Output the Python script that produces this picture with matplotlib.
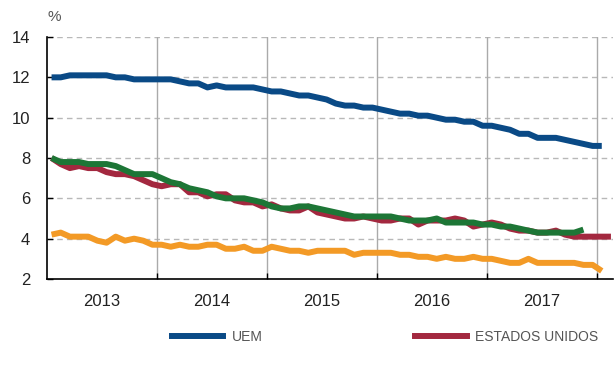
import numpy as np
import matplotlib
matplotlib.use("Agg")
import matplotlib.pyplot as plt
from matplotlib.lines import Line2D

plt.rcParams['font.family'] = ['Liberation Sans', 'DejaVu Sans']

# monthly unemployment rates (%), starting January 2013
uem = [12.0, 12.0, 12.1, 12.1, 12.1, 12.1, 12.1, 12.0, 12.0, 11.9, 11.9, 11.9,
       11.9, 11.9, 11.8, 11.7, 11.7, 11.5, 11.6, 11.5, 11.5, 11.5, 11.5, 11.4,
       11.3, 11.3, 11.2, 11.1, 11.1, 11.0, 10.9, 10.7, 10.6, 10.6, 10.5, 10.5,
       10.4, 10.3, 10.2, 10.2, 10.1, 10.1, 10.0, 9.9, 9.9, 9.8, 9.8, 9.6,
       9.6, 9.5, 9.4, 9.2, 9.2, 9.0, 9.0, 9.0, 8.9, 8.8, 8.7, 8.6,
       8.6]
eeuu = [8.0, 7.7, 7.5, 7.6, 7.5, 7.5, 7.3, 7.2, 7.2, 7.1, 6.9, 6.7,
        6.6, 6.7, 6.7, 6.3, 6.3, 6.1, 6.2, 6.2, 5.9, 5.8, 5.8, 5.6,
        5.7, 5.5, 5.4, 5.4, 5.6, 5.3, 5.2, 5.1, 5.0, 5.0, 5.1, 5.0,
        4.9, 4.9, 5.0, 5.0, 4.7, 4.9, 4.9, 4.9, 5.0, 4.9, 4.6, 4.7,
        4.8, 4.7, 4.5, 4.4, 4.4, 4.3, 4.3, 4.4, 4.2, 4.1, 4.1, 4.1,
        4.1, 4.1]
reino_unido = [8.0, 7.8, 7.8, 7.8, 7.7, 7.7, 7.7, 7.6, 7.4, 7.2, 7.2, 7.2,
               7.0, 6.8, 6.7, 6.5, 6.4, 6.3, 6.1, 6.0, 6.0, 6.0, 5.9, 5.8,
               5.6, 5.5, 5.5, 5.6, 5.6, 5.5, 5.4, 5.3, 5.2, 5.1, 5.1, 5.1,
               5.1, 5.1, 5.0, 4.9, 4.9, 4.9, 5.0, 4.8, 4.8, 4.8, 4.8, 4.7,
               4.7, 4.6, 4.6, 4.5, 4.4, 4.3, 4.3, 4.3, 4.3, 4.3, 4.45]
japon = [4.2, 4.3, 4.1, 4.1, 4.1, 3.9, 3.8, 4.1, 3.9, 4.0, 3.9, 3.7,
         3.7, 3.6, 3.7, 3.6, 3.6, 3.7, 3.7, 3.5, 3.5, 3.6, 3.4, 3.4,
         3.6, 3.5, 3.4, 3.4, 3.3, 3.4, 3.4, 3.4, 3.4, 3.2, 3.3, 3.3,
         3.3, 3.3, 3.2, 3.2, 3.1, 3.1, 3.0, 3.1, 3.0, 3.0, 3.1, 3.0,
         3.0, 2.9, 2.8, 2.8, 3.0, 2.8, 2.8, 2.8, 2.8, 2.8, 2.7, 2.7,
         2.4]

years = ['2013', '2014', '2015', '2016', '2017']
yticks = [2, 4, 6, 8, 10, 12, 14]

c_uem = '#0a4a86'
c_eeuu = '#a3283f'
c_uk = '#1d7636'
c_jp = '#f39a26'

fig = plt.figure(figsize=(6.14, 3.72), dpi=100)
ax = fig.add_axes([0.0765, 0.25, 0.9215, 0.6505])

def months(vals):
    return np.arange(len(vals)) + 0.5

lw = 4.3
ax.plot(months(japon), japon, color=c_jp, lw=lw, solid_capstyle='butt', zorder=3)
ax.plot(months(eeuu), eeuu, color=c_eeuu, lw=lw, solid_capstyle='butt', zorder=4)
ax.plot(months(reino_unido), reino_unido, color=c_uk, lw=lw, solid_capstyle='butt', zorder=5)
ax.plot(months(uem), uem, color=c_uem, lw=lw, solid_capstyle='butt', zorder=6)

ax.set_xlim(0, 61.7)
ax.set_ylim(2, 14)

# horizontal dashed grid, vertical solid year separators
for y in yticks[1:]:
    ax.axhline(y, color='#b8b8b8', lw=1, ls=(0, (4, 3)), zorder=1)
for k in range(1, len(years) + 1):
    ax.axvline(12 * k, color='#aaaaaa', lw=1, zorder=1)

ax.set_yticks(yticks)
ax.set_xticks([12 * k for k in range(1, len(years) + 1)])
ax.set_xticklabels([])
ax.set_xticks([12 * k + 6 for k in range(len(years))], minor=True)
ax.set_xticklabels(years, minor=True)

ax.tick_params(axis='y', direction='in', length=4, width=1, pad=12,
               labelsize=12, labelcolor='#222222')
ax.tick_params(axis='x', which='major', direction='in', length=4, width=1)
ax.tick_params(axis='x', which='minor', length=0, pad=11,
               labelsize=12, labelcolor='#222222')

for side in ['top', 'right']:
    ax.spines[side].set_visible(False)
for side in ['left', 'bottom']:
    ax.spines[side].set_color('black')
    ax.spines[side].set_linewidth(1.2)

fig.text(0.078, 0.955, '%', fontsize=11, color='#555555', ha='left', va='center')

handles = [Line2D([], [], color=c_uem, lw=4.3),
           Line2D([], [], color=c_eeuu, lw=4.3)]
fig.legend(handles, ['UEM', 'ESTADOS UNIDOS'], loc='center',
           bbox_to_anchor=(0.627, 0.095), ncol=2, frameon=False,
           handlelength=3.7, handletextpad=0.6, columnspacing=11.0,
           prop={'size': 10}, labelcolor='#555555')

fig.savefig('out.png', dpi=100)
